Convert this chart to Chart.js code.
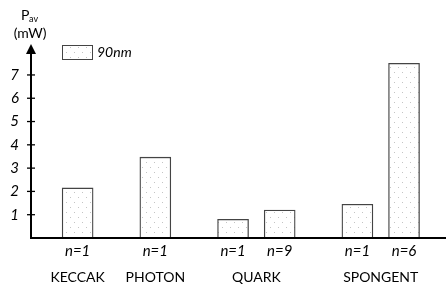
<!DOCTYPE html>
<html>
<head>
<meta charset="utf-8">
<script src="https://cdn.jsdelivr.net/npm/chart.js@4.4.1/dist/chart.umd.min.js"></script>
<style>
  html, body { margin: 0; padding: 0; background: #fff; }
  #wrap { width: 446px; height: 290px; }
</style>
</head>
<body>
<div id="wrap"><canvas id="grafico" width="446" height="290"></canvas></div>
<script>
// datos
const grupos = ['KECCAK', 'PHOTON', 'QUARK', 'QUARK', 'SPONGENT', 'SPONGENT'];
const etiquetasN = ['n=1', 'n=1', 'n=1', 'n=9', 'n=1', 'n=6'];
const potencia = [2.15, 3.47, 0.8, 1.2, 1.45, 7.5];
// posicion de cada barra en el eje x (en unidades de hueco)
const hueco = [3, 8, 13, 16, 21, 24];
const ticksY = [1, 2, 3, 4, 5, 6, 7];
const serie = '90nm';

const fuente = 'Lato, "Open Sans", sans-serif';

// patron de puntos para el relleno
function crearPatron() {
    const c = document.createElement('canvas');
    c.width = 8; c.height = 10;
    const g = c.getContext('2d');
    g.fillStyle = '#fff';
    g.fillRect(0, 0, 8, 10);
    g.fillStyle = '#c4c4c4';
    g.fillRect(2, 2, 1, 1);
    g.fillRect(6, 7, 1, 1);
    return g.createPattern(c, 'repeat');
}
const patron = crearPatron();

const dibujoEjes = {
    id: 'dibujoEjes',
    afterDraw(chart) {
        const ctx = chart.ctx;
        const x = chart.scales.x, y = chart.scales.y;
        const x0 = x.left, y0 = y.getPixelForValue(0);
        ctx.save();
        ctx.strokeStyle = '#000';
        ctx.fillStyle = '#000';

        // eje x
        ctx.lineWidth = 2;
        ctx.beginPath();
        ctx.moveTo(x0, y0);
        ctx.lineTo(chart.width, y0);
        ctx.stroke();

        // eje y con flecha
        ctx.beginPath();
        ctx.moveTo(x0, y0 + 1);
        ctx.lineTo(x0, 52);
        ctx.stroke();
        ctx.beginPath();
        ctx.moveTo(x0, 44);
        ctx.lineTo(x0 - 5, 54);
        ctx.lineTo(x0 + 5, 54);
        ctx.closePath();
        ctx.fill();

        // marcas y numeros del eje y
        ctx.lineWidth = 1.3;
        ctx.font = 'italic 15px ' + fuente;
        ctx.textAlign = 'right';
        ctx.textBaseline = 'middle';
        ticksY.forEach(v => {
            const py = y.getPixelForValue(v);
            ctx.beginPath();
            ctx.moveTo(x0 - 4, py);
            ctx.lineTo(x0 + 4, py);
            ctx.stroke();
            ctx.fillText(String(v), 19, py);
        });

        // etiquetas n= bajo cada barra
        ctx.textAlign = 'center';
        ctx.font = 'italic 15px ' + fuente;
        hueco.forEach((h, i) => {
            ctx.fillText(etiquetasN[i], x.getPixelForValue(h), 251);
        });

        // nombres de grupo centrados bajo sus barras
        ctx.font = '14px ' + fuente;
        const vistos = [];
        grupos.forEach(nombre => {
            if (vistos.includes(nombre)) return;
            vistos.push(nombre);
            const pos = hueco.filter((h, i) => grupos[i] === nombre);
            const medio = pos.reduce((a, b) => a + b, 0) / pos.length;
            ctx.fillText(nombre, x.getPixelForValue(medio), 277);
        });

        // titulo del eje y
        ctx.font = '14px ' + fuente;
        ctx.textAlign = 'left';
        ctx.fillText('P', 21, 15);
        ctx.font = '9px ' + fuente;
        ctx.fillText('av', 29, 19);
        ctx.font = '14px ' + fuente;
        ctx.textAlign = 'center';
        ctx.fillText('(mW)', 30, 33);

        // leyenda
        ctx.fillStyle = patron;
        ctx.fillRect(62, 45, 30, 14);
        ctx.strokeStyle = '#444';
        ctx.lineWidth = 1;
        ctx.strokeRect(62.5, 45.5, 30, 14);
        ctx.fillStyle = '#000';
        ctx.textAlign = 'left';
        ctx.font = 'italic 14px ' + fuente;
        ctx.fillText(serie, 97, 52);

        ctx.restore();
    }
};

document.addEventListener('DOMContentLoaded', function() {
    const ctx = document.getElementById('grafico');
    new Chart(ctx.getContext('2d'), {
        type: 'bar',
        data: {
            datasets: [{
                label: serie,
                data: hueco.map((h, i) => ({ x: h, y: potencia[i] })),
                backgroundColor: patron,
                borderColor: '#444',
                borderWidth: 1.3,
                borderSkipped: false,
                barThickness: 31
            }]
        },
        options: {
            responsive: false,
            animation: false,
            events: [],
            layout: { padding: { left: 31, top: 47, right: 0, bottom: 52 } },
            plugins: {
                legend: { display: false },
                tooltip: { enabled: false }
            },
            scales: {
                x: { type: 'linear', display: false, offset: false, min: 0, max: 26.7 },
                y: { display: false, min: 0, max: 8.2 }
            }
        },
        plugins: [dibujoEjes]
    });
});
</script>
</body>
</html>
